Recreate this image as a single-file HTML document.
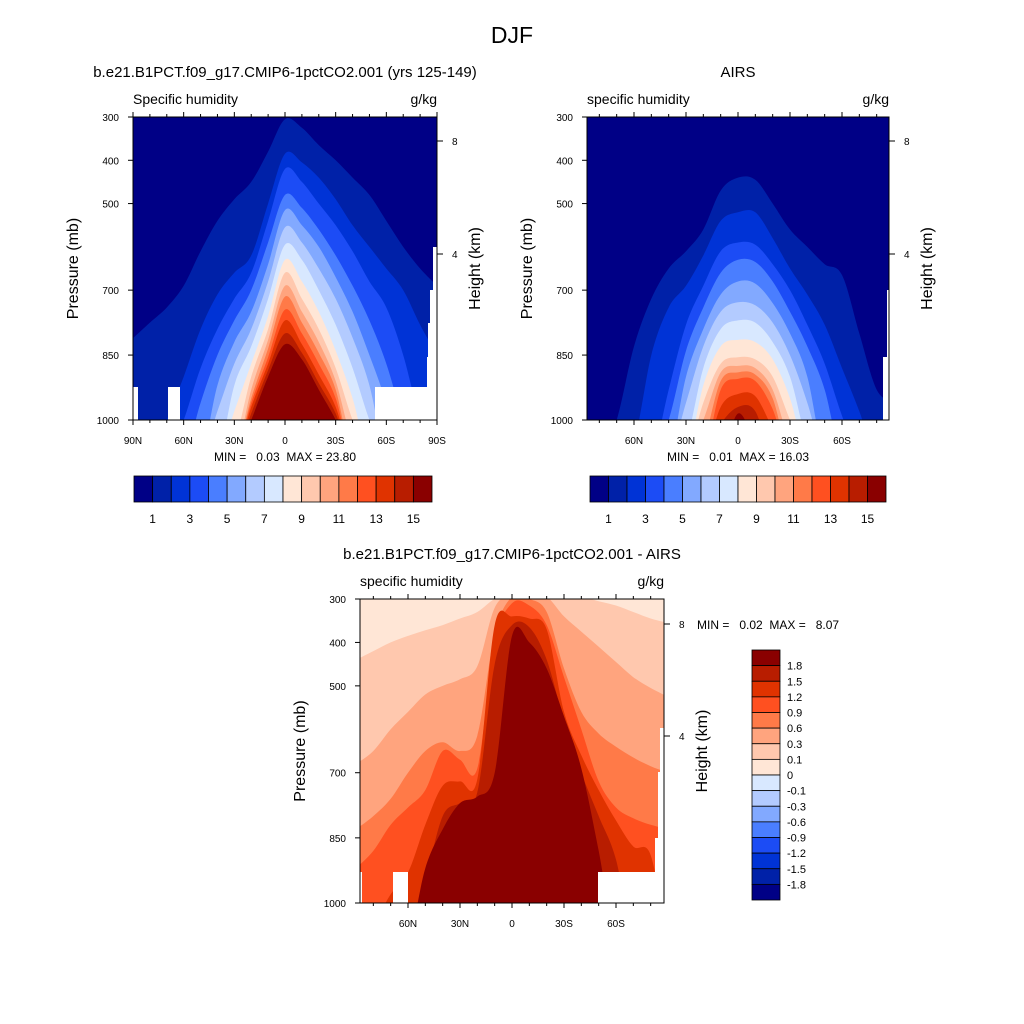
<!DOCTYPE html>
<html><head><meta charset="utf-8"><style>
html,body{margin:0;padding:0;background:#fff;}
svg{display:block;font-family:"Liberation Sans",Arial,sans-serif;}
.pre{white-space:pre;}
</style></head><body>
<svg id="fig" width="1024" height="1024" viewBox="0 0 1024 1024">
<text x="512" y="43" font-size="23" text-anchor="middle">DJF</text>
<g id="p1"></g>
<g id="p2"></g>
<g id="p3"></g>
</svg>
<script>
const lats=[90,80,70,60,50,40,30,20,10,0,-10,-20,-30,-40,-50,-60,-70,-80,-90];
const N=1100;
// Panel 1 level boundaries (pressure, mb) for levels 1..15
const m1=[811,775,740,690,610,540,490,450,380,305,325,365,400,440,480,540,600,650,690];
const m2=[N,N,1000,900,790,710,660,620,500,385,405,440,490,550,600,650,700,780,850];
const m3=[N,N,N,1000,880,790,720,660,540,420,450,500,550,610,680,740,850,1000,N];
const m4=[N,N,N,N,960,850,770,700,590,480,510,560,620,690,770,870,1000,N,N];
const m5=[N,N,N,N,N,920,820,750,640,515,550,600,670,750,850,960,N,N,N];
const m6=[N,N,N,N,N,980,870,790,680,555,590,650,720,810,920,N,N,N,N];
const m7=[N,N,N,N,N,N,920,830,720,595,630,700,780,880,1000,N,N,N,N];
const m8=[N,N,N,N,N,N,980,870,760,630,680,750,840,950,N,N,N,N,N];
const m9=[N,N,N,N,N,N,1050,900,790,660,720,790,880,1000,N,N,N,N,N];
const m10=[N,N,N,N,N,N,N,930,815,690,750,820,910,1050,N,N,N,N,N];
const m11=[N,N,N,N,N,N,N,950,835,715,775,845,930,N,N,N,N,N,N];
const m12=[N,N,N,N,N,N,N,960,855,745,800,870,950,N,N,N,N,N,N];
const m13=[N,N,N,N,N,N,N,970,870,770,825,895,970,N,N,N,N,N,N];
const m14=[N,N,N,N,N,N,N,985,885,800,845,915,985,N,N,N,N,N,N];
const m15=[N,N,N,N,N,N,N,1000,900,825,860,930,1000,N,N,N,N,N,N];
// Panel 2 (AIRS)
const a1=[N,N,1000,830,720,650,610,560,470,440,445,500,560,600,640,665,800,930,960];
const a2=[N,N,N,1050,850,740,690,620,540,520,520,580,650,710,780,880,980,N,N];
const a3=[N,N,N,N,N,930,780,690,610,590,595,640,700,780,870,990,N,N,N];
const a4=[N,N,N,N,N,1000,840,740,660,630,635,680,750,830,930,N,N,N,N];
const a5=[N,N,N,N,N,N,900,790,710,680,685,730,800,900,N,N,N,N,N];
const a6=[N,N,N,N,N,N,960,830,750,728,735,775,850,960,N,N,N,N,N];
const a7=[N,N,N,N,N,N,1050,880,790,770,775,820,900,1050,N,N,N,N,N];
const a8=[N,N,N,N,N,N,N,920,830,815,820,860,950,N,N,N,N,N,N];
const a9=[N,N,N,N,N,N,N,960,870,855,860,900,1000,N,N,N,N,N,N];
const a10=[N,N,N,N,N,N,N,1000,890,875,880,930,1050,N,N,N,N,N,N];
const a11=[N,N,N,N,N,N,N,1050,910,890,895,950,N,N,N,N,N,N,N];
const a12=[N,N,N,N,N,N,N,N,930,905,910,975,N,N,N,N,N,N,N];
const a13=[N,N,N,N,N,N,N,N,970,940,945,1020,N,N,N,N,N,N,N];
const a14=[N,N,N,N,N,N,N,N,1010,970,980,N,N,N,N,N,N,N,N];
const a15=[N,N,N,N,N,N,N,N,N,985,1050,N,N,N,N,N,N,N,N];
// Panel 3 (difference) boundaries for 0.1,0.3,0.6,0.9,1.2,1.5,1.8
const d1=[440,420,400,385,372,360,345,330,300,290,290,290,290,295,305,315,330,345,355];
const d2=[680,650,600,560,520,500,485,455,320,290,290,295,340,375,410,445,480,505,525];
const d3=[830,800,760,700,650,630,650,615,380,295,300,330,460,560,610,640,665,685,700];
const d4=[920,880,820,780,740,650,670,690,400,310,315,360,480,600,720,780,805,820,830];
const d5=[N,1050,980,930,820,730,720,715,360,340,345,370,560,660,740,810,870,890,N];
const d6=[N,N,N,N,950,800,770,745,450,360,365,440,580,700,800,900,N,N,N];
const d7=[N,N,N,N,920,830,770,755,700,385,400,460,570,690,880,N,N,N,N];
const seqLabels=["1","3","5","7","9","11","13","15"];
const diffLabels=["1.8","1.5","1.2","0.9","0.6","0.3","0.1","0","-0.1","-0.3","-0.6","-0.9","-1.2","-1.5","-1.8"];
const p1Lev=[m1,m2,m3,m4,m5,m6,m7,m8,m9,m10,m11,m12,m13,m14,m15];
const p2Lev=[a1,a2,a3,a4,a5,a6,a7,a8,a9,a10,a11,a12,a13,a14,a15];
const p3Lev=[d1,d2,d3,d4,d5,d6,d7];

const COLS=["#000086","#0021a8","#0033d6","#1c4cf5","#4a7eff","#82a9ff","#b3cbff","#d8e8ff","#ffe6d6","#ffc8ae","#ffa47e","#ff7a48","#ff5020","#e03300","#b81d00","#8a0000"];
const NS="http://www.w3.org/2000/svg";
function mk(parent,tag,attrs){const e=document.createElementNS(NS,tag);for(const k in attrs)e.setAttribute(k,attrs[k]);parent.appendChild(e);return e;}
function txt(parent,x,y,s,size,anchor,rot){const t=mk(parent,"text",{x:x,y:y,"font-size":size,"text-anchor":anchor||"start"});if(rot)t.setAttribute("transform","rotate(-90 "+x+" "+y+")");t.textContent=s;return t;}
function smoothPath(pts){let d="M"+pts[0][0]+","+pts[0][1];for(let i=0;i<pts.length-1;i++){const p0=pts[Math.max(0,i-1)],p1=pts[i],p2=pts[i+1],p3=pts[Math.min(pts.length-1,i+2)];
const c1x=p1[0]+(p2[0]-p0[0])/6,c1y=p1[1]+(p2[1]-p0[1])/6,c2x=p2[0]-(p3[0]-p1[0])/6,c2y=p2[1]-(p3[1]-p1[1])/6;d+=" C"+c1x.toFixed(1)+","+c1y.toFixed(1)+" "+c2x.toFixed(1)+","+c2y.toFixed(1)+" "+p2[0].toFixed(1)+","+p2[1].toFixed(1);}return d;}

function panel(cfg){
const g=document.getElementById(cfg.id);
const X=lat=>cfg.x0-lat*cfg.sx, Y=p=>cfg.top+(p-300)/700*cfg.h;
const L=cfg.left,R=cfg.right,T=cfg.top,B=cfg.top+cfg.h;
const cid="clip"+cfg.id;
const defs=mk(g,"defs",{});const cp=mk(defs,"clipPath",{id:cid});mk(cp,"rect",{x:L,y:T,width:R-L,height:B-T});
const area=mk(g,"g",{"clip-path":"url(#"+cid+")"});


const bg=mk(area,"rect",{x:L,y:T,width:R-L,height:B-T,fill:cfg.colors[0]});


cfg.levels.forEach((arr,k)=>{
 const pts=lats.map((la,i)=>[X(la),Math.min(Y(arr[i]),B+40)]);
 let d=smoothPath(pts);d+=" L"+pts[pts.length-1][0]+","+(B+60)+" L"+pts[0][0]+","+(B+60)+" Z";
 const path=mk(area,"path",{d:d,fill:cfg.colors[k+1]});
 
 
});
cfg.masks.forEach(m=>{const r=mk(area,"rect",{x:m[0],y:m[1],width:m[2]-m[0],height:m[3]-m[1],fill:"#fff"});
 
 });
const fr=mk(g,"rect",{x:L,y:T,width:R-L,height:B-T,fill:"none",stroke:"#000","stroke-width":1});


const ax=mk(g,"g",{stroke:"#000","stroke-width":1});
for(let la=90;la>=-90;la-=10){const x=X(la);if(x<L-0.5||x>R+0.5)continue;const len=(la%30===0)?5:3;
 mk(ax,"line",{x1:x,y1:B,x2:x,y2:B+len});mk(ax,"line",{x1:x,y1:T,x2:x,y2:T-len});}
cfg.xlabels.forEach(l=>{const t=txt(g,X(l[0]),B+24,l[1],10,"middle");
 
 });
[300,400,500,700,850,1000].forEach(p=>{const y=Y(p);mk(ax,"line",{x1:L-5,y1:y,x2:L,y2:y});
 const t=txt(g,L-14,y+4,String(p),10,"end");
 
 });
cfg.hticks.forEach(h=>{mk(ax,"line",{x1:R,y1:h[0],x2:R+6,y2:h[0]});
 const t=txt(g,R+15,h[0]+4,h[1],10,"start");
 
 });
let t=txt(g,cfg.tx,cfg.top-40,cfg.title,15,"middle");
t=txt(g,L,T-13,cfg.sub,14,"start");
t=txt(g,R,T-13,"g/kg",14,"end");
t=txt(g,L-55,(T+B)/2,"Pressure (mb)",16,"middle",true);
t=txt(g,R+43,(T+B)/2,"Height (km)",16,"middle",true);
return g;}

const seqColorbar=(g,x0,x1,y0,y1)=>{const n=COLS.length,w=(x1-x0)/n;
 COLS.forEach((c,i)=>{const r=mk(g,"rect",{x:x0+i*w,y:y0,width:w,height:y1-y0,fill:c,stroke:"#000","stroke-width":0.8});
  
  });
 seqLabels.forEach((s,i)=>{const t=txt(g,x0+(2*i+1)*w,y1+21,s,12,"middle");
  
  });};

const g1=panel({id:"p1",x0:285,sx:152/90,left:133,right:437,top:117,h:303,levels:p1Lev,colors:COLS,
 masks:[[130,387,138,425],[168,387,180,425],[375,387,440,425],[433,247,440,387],[430,290,440,387],[428,323,440,387],[427,357,440,387]],
 xlabels:[[90,"90N"],[60,"60N"],[30,"30N"],[0,"0"],[-30,"30S"],[-60,"60S"],[-90,"90S"]],hticks:[[141,"8"],[254,"4"]],
 tx:285,title:"b.e21.B1PCT.f09_g17.CMIP6-1pctCO2.001 (yrs 125-149)",sub:"Specific humidity"});
let t=txt(g1,285,461,"MIN =   0.03  MAX = 23.80",12,"middle");t.setAttribute("class","pre");
seqColorbar(g1,134,432,476,502);

const g2=panel({id:"p2",x0:738,sx:52/30,left:587,right:889,top:117,h:303,levels:p2Lev,colors:COLS,
 masks:[[887,290,895,357],[883,357,895,425]],
 xlabels:[[60,"60N"],[30,"30N"],[0,"0"],[-30,"30S"],[-60,"60S"]],hticks:[[141,"8"],[254,"4"]],
 tx:738,title:"AIRS",sub:"specific humidity"});
t=txt(g2,738,461,"MIN =   0.01  MAX = 16.03",12,"middle");t.setAttribute("class","pre");
seqColorbar(g2,590,886,476,502);

const dcols=COLS.slice(8);
const g3=panel({id:"p3",x0:512,sx:52/30,left:360,right:664,top:599,h:304,levels:p3Lev,colors:dcols,
 masks:[[355,872,362,910],[393,872,408,910],[598,872,670,910],[660,728,670,872],[658,772,670,872],[655,838,670,872]],
 xlabels:[[60,"60N"],[30,"30N"],[0,"0"],[-30,"30S"],[-60,"60S"]],hticks:[[624,"8"],[736,"4"]],
 tx:512,title:"b.e21.B1PCT.f09_g17.CMIP6-1pctCO2.001 - AIRS",sub:"specific humidity"});
t=txt(g3,697,629,"MIN =   0.02  MAX =   8.07",12,"start");t.setAttribute("class","pre");
(function(){const x0=752,x1=780,y0=650,y1=900,n=COLS.length,h=(y1-y0)/n;
 for(let i=0;i<n;i++){const r=mk(g3,"rect",{x:x0,y:y0+i*h,width:x1-x0,height:h,fill:COLS[n-1-i],stroke:"#000","stroke-width":0.8});
  
  }
 diffLabels.forEach((s,i)=>{const tt=txt(g3,x1+7,y0+(i+1)*h+4,s,11,"start");
  
  });})();
</script>
</body></html>
